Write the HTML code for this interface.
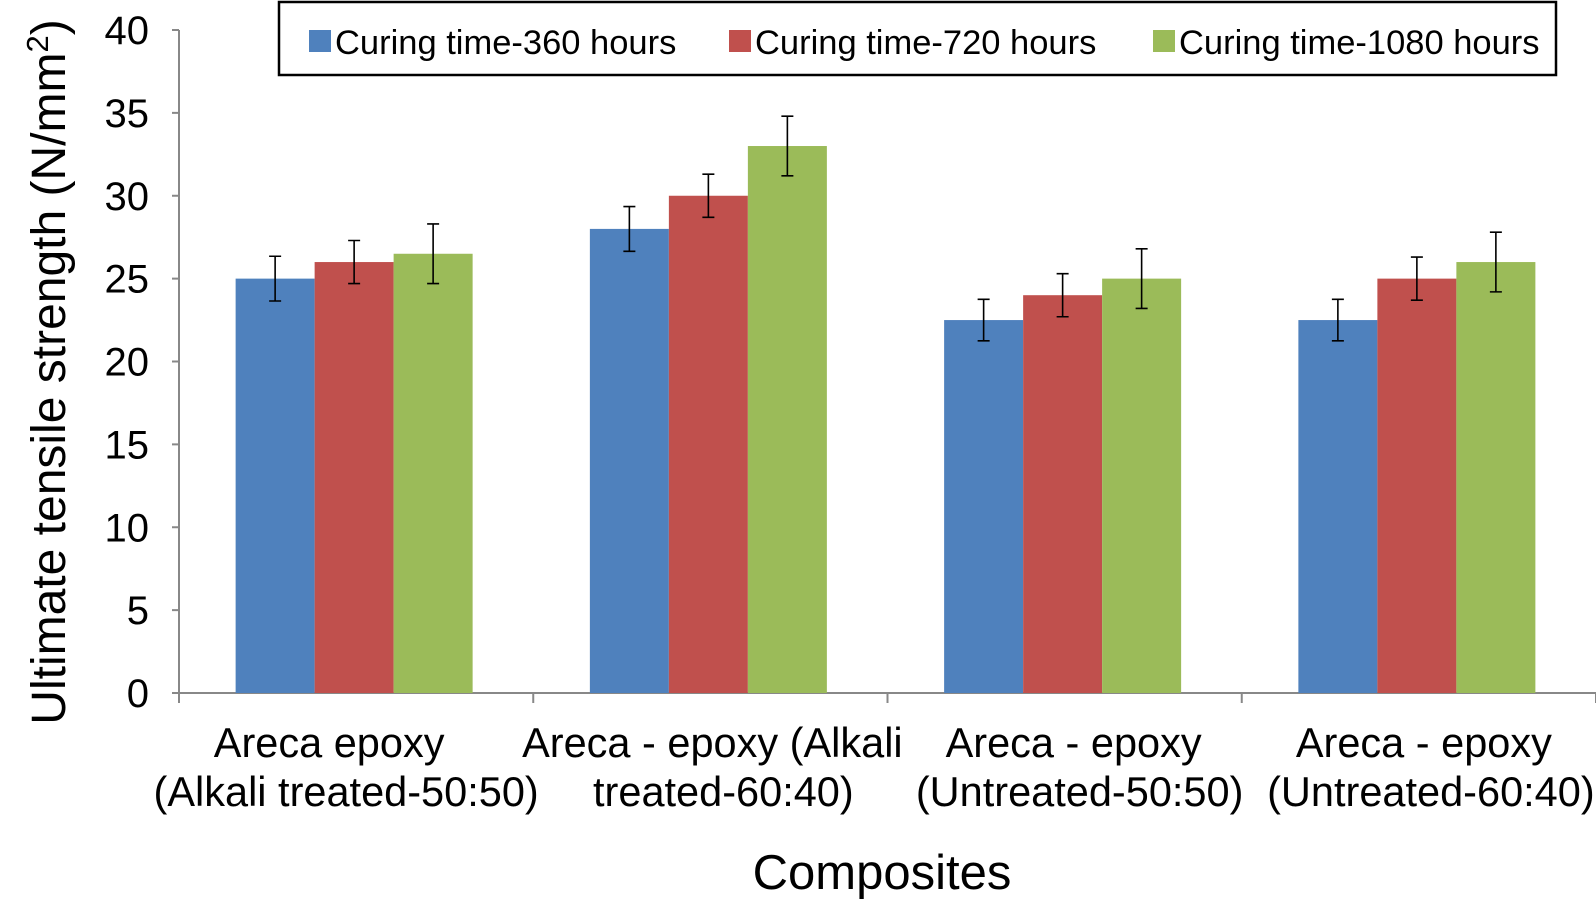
<!DOCTYPE html>
<html><head><meta charset="utf-8"><style>
html,body{margin:0;padding:0;background:#fff;}
svg{display:block;font-family:"Liberation Sans",Arial,sans-serif;}
</style></head><body>
<svg id="chart" width="1596" height="900" viewBox="0 0 1596 900">
<g id="plot"></g>
</svg>
<script>
const categories = [["Areca epoxy","(Alkali treated-50:50)"],["Areca - epoxy (Alkali","treated-60:40)"],["Areca - epoxy","(Untreated-50:50)"],["Areca - epoxy","(Untreated-60:40)"]];
const seriesNames = ["Curing time-360 hours","Curing time-720 hours","Curing time-1080 hours"];
const values360 = [25, 28, 22.5, 22.5];
const values720 = [26, 30, 24, 25];
const values1080 = [26.5, 33, 25, 26];
const err360 = [1.35, 1.35, 1.25, 1.25];
const err720 = [1.3, 1.3, 1.3, 1.3];
const err1080 = [1.8, 1.8, 1.8, 1.8];
const yTicks = [0,5,10,15,20,25,30,35,40];

const NS="http://www.w3.org/2000/svg";
const g=document.getElementById('plot');
const colors=["#4f81bd","#c0504d","#9bbb59"];
const X0=179, X1=1596, Y0=693, Y40=30;
const groupW=(X1-X0)/categories.length, barW=79;
const labelShift=[[-27,-10],[2,13],[9,15],[5,12]];
function y(v){return Y0-(v/40)*(Y0-Y40);}
function xBar(ci,si){return X0+ci*groupW+(groupW-3*barW)/2-2+si*barW;}
function el(t,a,txt){const e=document.createElementNS(NS,t);for(const k in a)e.setAttribute(k,a[k]);if(txt!==undefined)e.textContent=txt;g.appendChild(e);return e;}

let ax=el('line',{x1:X0,y1:Y40,x2:X0,y2:Y0,stroke:'#888','stroke-width':2});


let bx=el('line',{x1:X0,y1:Y0,x2:X1,y2:Y0,stroke:'#888','stroke-width':2});


yTicks.forEach(t=>{
  el('line',{x1:X0-7,y1:y(t),x2:X0,y2:y(t),stroke:'#888','stroke-width':2});
  const tl=el('text',{x:X0-30,y:y(t)+14,'text-anchor':'end','font-size':40,fill:'#000'},t);
  
  
});
for(let i=0;i<=categories.length;i++){
  const xx=X0+i*groupW;
  el('line',{x1:xx,y1:Y0,x2:xx,y2:Y0+10,stroke:'#888','stroke-width':2});
}
const vals=[values360,values720,values1080], errs=[err360,err720,err1080];
categories.forEach((c,ci)=>{
  vals.forEach((arr,si)=>{
    const xb=xBar(ci,si);
    const r=el('rect',{x:xb,y:y(arr[ci]),width:barW,height:Y0-y(arr[ci]),fill:colors[si]});
    
    
    const cx=xb+barW/2, hi=y(arr[ci]+errs[si][ci]), lo=y(arr[ci]-errs[si][ci]);
    const eg=el('path',{d:`M${cx},${hi}V${lo}M${cx-6},${hi}H${cx+6}M${cx-6},${lo}H${cx+6}`,stroke:'#000','stroke-width':1.6,fill:'none'});
    
    
  });
  c.forEach((line,li)=>{
    const cxg=X0+ci*groupW+groupW/2+labelShift[ci][li];
    const t=el('text',{x:cxg,y:757+li*49,'text-anchor':'middle','font-size':41.5,fill:'#000'},line);
    
    
  });
});
let xt=el('text',{x:882,y:889,'text-anchor':'middle','font-size':49,fill:'#000'},'Composites');


let yt=el('text',{x:0,y:0,'text-anchor':'middle','font-size':48,fill:'#000',transform:'translate(65,372) rotate(-90)'});
yt.innerHTML='Ultimate tensile strength (N/mm<tspan dy="-17" font-size="31">2</tspan><tspan dy="17">)</tspan>';


let lb=el('rect',{x:279,y:2,width:1277,height:73,fill:'#fff',stroke:'#000','stroke-width':2.5});


const lx=[309,729,1153];
seriesNames.forEach((n,i)=>{
  const s=el('rect',{x:lx[i],y:30,width:22,height:22,fill:colors[i]});
  
  
  const t=el('text',{x:lx[i]+26,y:54,'font-size':34.5,fill:'#000'},n);
  
  
});
</script>
</body></html>
